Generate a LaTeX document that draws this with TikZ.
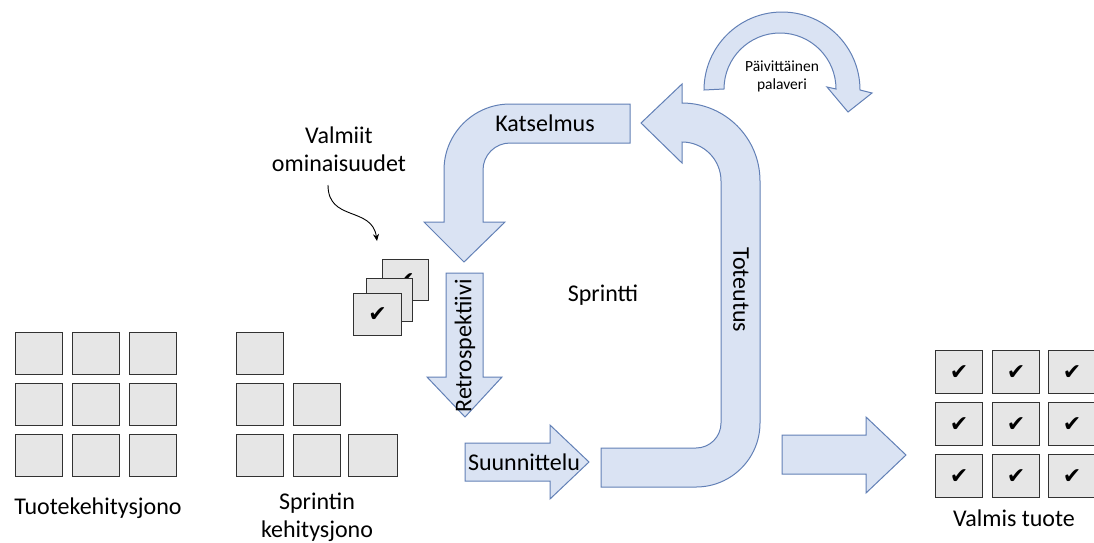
\documentclass[tikz,border=0pt]{standalone}
\usepackage{fontspec}
\setmainfont{Carlito}
\newfontfamily\symfont{DejaVu Sans}
\usetikzlibrary{arrows.meta}
\definecolor{arrowfill}{RGB}{218,227,243}
\definecolor{arrowline}{RGB}{98,128,182}
\definecolor{cardfill}{RGB}{230,230,230}
\definecolor{cardline}{RGB}{50,50,50}

\begin{document}
\begin{tikzpicture}[x=1pt,y=-1pt,
  blockarrow/.style={fill=arrowfill,draw=arrowline,line width=1pt,line join=miter},
  card/.style={draw=cardline,fill=cardfill,line width=1.3pt,minimum width=47pt,
    minimum height=42pt,inner sep=0pt,anchor=north west},
  donecard/.style={card,font=\symfont\fontsize{22}{22}\selectfont},
  lbl/.style={font=\fontsize{24}{28}\selectfont,align=center,inner sep=0pt},
  small/.style={font=\fontsize{15.5}{18}\selectfont,align=center,inner sep=0pt}
]
\useasboundingbox (0,0) rectangle (1094,542);

% product backlog: full 3x3 grid
\foreach \c/\x in {1/15,2/72,3/129}
  \foreach \r/\y in {1/332,2/383,3/434}
    \node[card] (pb-\r-\c) at (\x,\y) {};
\node[lbl] (pb-label) at (98,508) {Tuotekehitysjono};

% sprint backlog: staircase
\node[card] (sb-1-1) at (236,332) {};
\node[card] (sb-2-1) at (236,383) {};
\node[card] (sb-2-2) at (293,383) {};
\node[card] (sb-3-1) at (236,434) {};
\node[card] (sb-3-2) at (293,434) {};
\node[card,minimum width=49pt] (sb-3-3) at (348,434) {};
\node[lbl] (sb-label) at (317,517) {Sprintin\\kehitysjono};

% finished features: stacked cards
\node[donecard,minimum width=46pt,minimum height=41pt] (st-3) at (382,259) {✔};
\node[donecard,minimum width=46pt,minimum height=43pt] (st-2) at (366,278) {✔};
\node[donecard,minimum width=48pt,minimum height=42pt] (st-1) at (353,293) {✔};
\node[lbl] (feat) at (339,149) {Valmiit\\ominaisuudet};
\coordinate (feat-tail) at (328,185);
\coordinate (feat-head) at (377,241);
\draw[line width=0.9pt,-{Stealth[length=7pt,width=6pt]}] (feat-tail)
  .. controls (328,222) and (372,206) .. (feat-head);

% finished product: 3x3 grid of checked cards
\foreach \c/\x in {1/935,2/992,3/1048}
  \foreach \r/\y in {1/350,2/402,3/454}
    \node[donecard,minimum height=43pt] (fp-\r-\c) at (\x,\y) {✔};
\node[lbl] (fp-label) at (1014,518) {Valmis tuote};

% review: bent arrow down-left
\draw[blockarrow] (630,104) -- (510,104) arc[start angle=270,end angle=180,radius=66]
  -- (444,222) -- (424,222) -- (464,262) -- (505,222) -- (483,222) -- (483,170)
  arc[start angle=180,end angle=270,radius=27] -- (630,143) -- cycle;
\node[lbl] (review) at (545,123) {Katselmus};

% retrospective: straight down arrow
\draw[blockarrow] (446,273) -- (483,273) -- (483,377) -- (502,377) -- (465,417)
  -- (427,377) -- (446,377) -- cycle;
\node[lbl,rotate=90] (retro) at (465,346) {Retrospektiivi};

% planning: straight right arrow
\draw[blockarrow] (465,443) -- (550,443) -- (550,425) -- (589,462) -- (550,499)
  -- (550,481) -- (465,481) -- cycle;
\node[lbl] (plan) at (524,462) {Suunnittelu};

% implementation: U-turn arrow up and back left
\draw[blockarrow] (601,448) -- (696,448) arc[start angle=90,end angle=0,radius=25]
  -- (721,181) arc[start angle=0,end angle=-90,radius=39]
  -- (682,163) -- (641,123) -- (682,84) -- (682,103)
  arc[start angle=270,end angle=360,radius=78]
  -- (760,423) arc[start angle=0,end angle=90,radius=64] -- (601,487) -- cycle;
\node[lbl,rotate=-90] (impl) at (741,290) {Toteutus};

% daily scrum: circular arrow
\draw[blockarrow] (704,90) arc[start angle=180,end angle=360,radius=78]
  -- (872,93) -- (848,112) -- (827,87) -- (836,89)
  arc[start angle=360,end angle=180,radius=56] -- cycle;
\node[small] (daily) at (782,76) {Päivittäinen\\palaveri};

\node[lbl] (sprint) at (603,295) {Sprintti};

% delivery arrow
\draw[blockarrow] (782,435) -- (866,435) -- (866,417) -- (906,455) -- (866,493)
  -- (866,474) -- (782,474) -- cycle;
\end{tikzpicture}
\end{document}
